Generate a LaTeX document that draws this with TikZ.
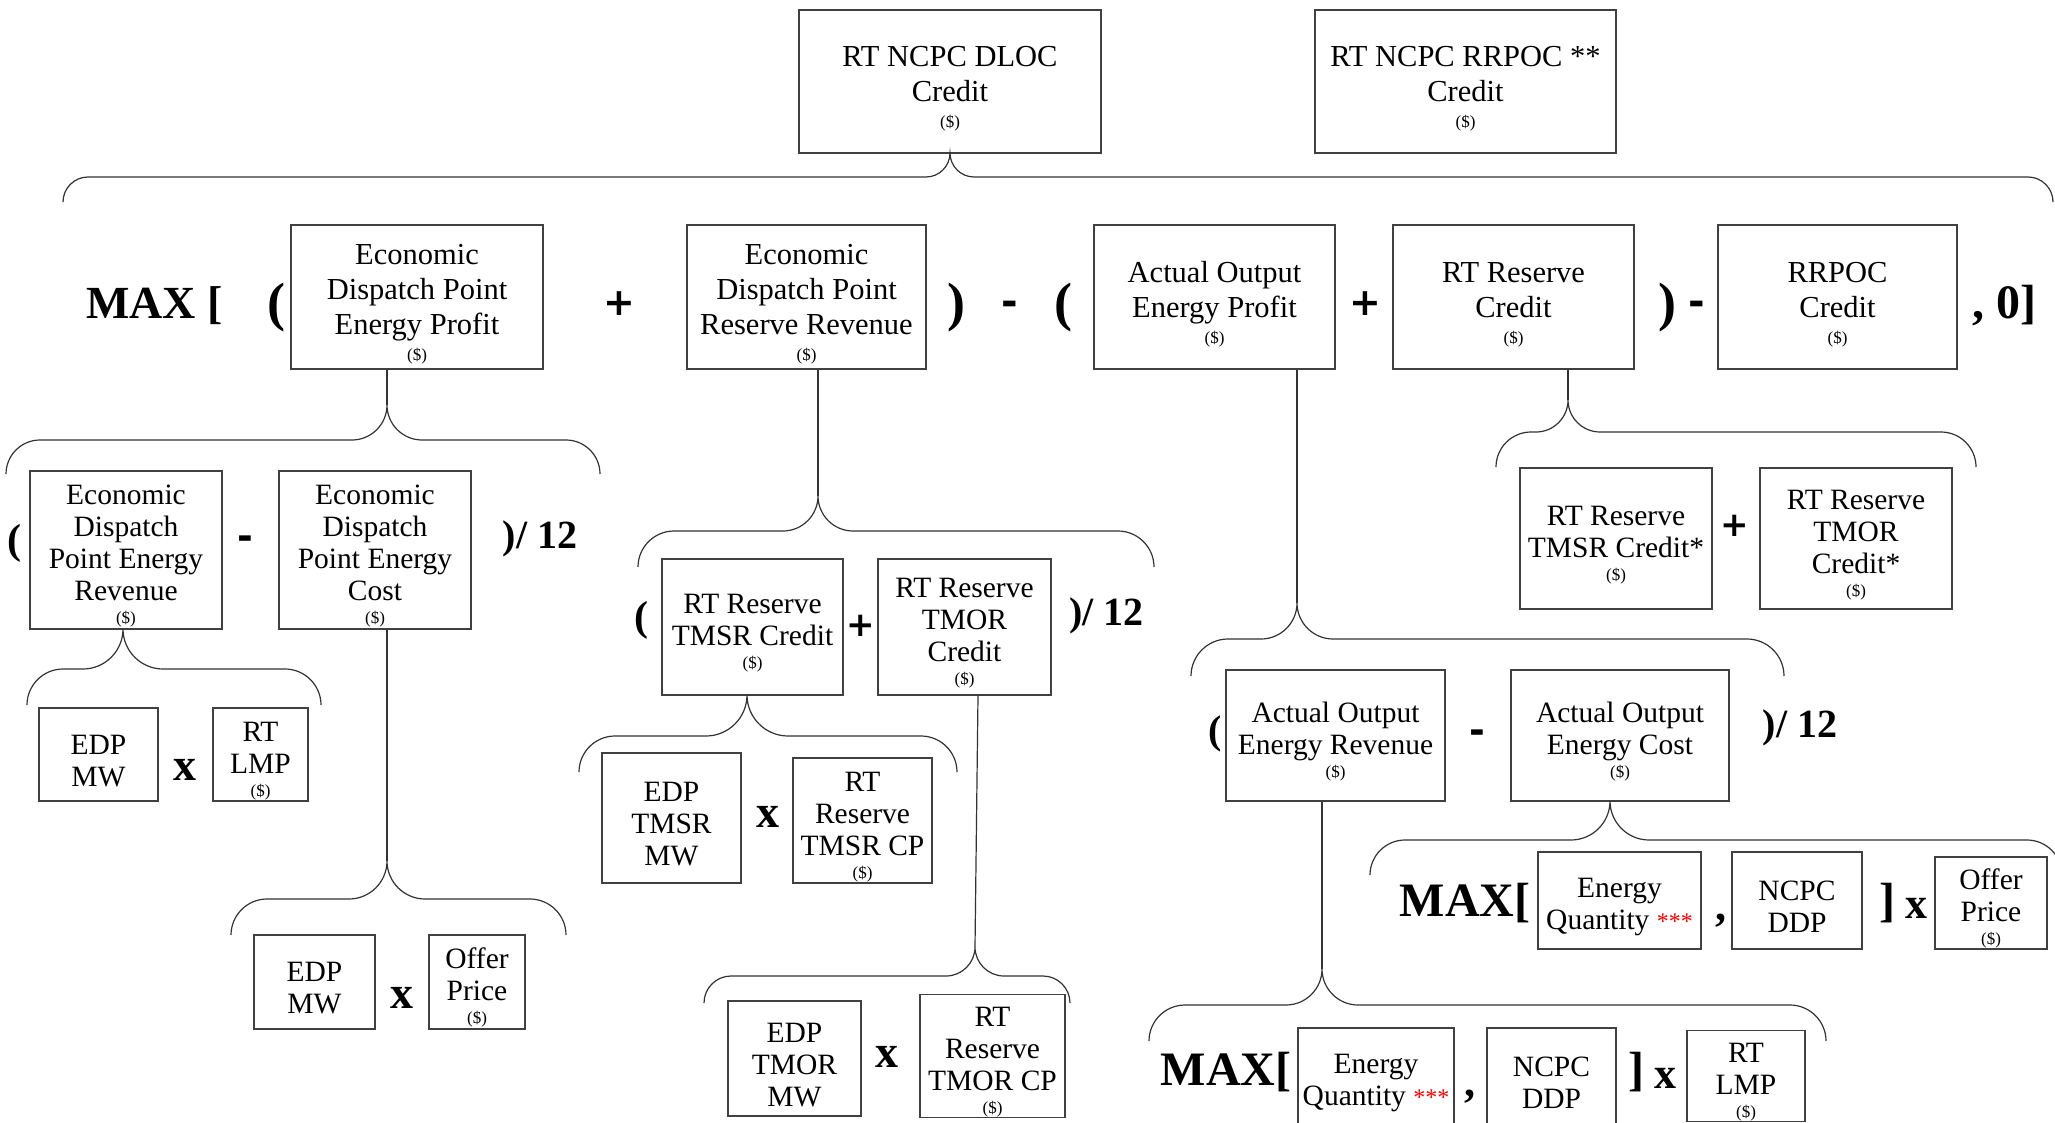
\documentclass[tikz,border=0pt]{standalone}
\usepackage{fontspec}
\setmainfont{Liberation Serif}
\newfontfamily\heavy{DejaVu Sans}
\usepackage{xcolor}

% small "($)" unit line under a box label
\newcommand\dol{\\[-9pt]{\fontsize{17}{18}\selectfont(\$)}}
% red footnote marks
\newcommand\stars{{\color{red}\fontsize{24}{24}\selectfont ***}}
% box: style, name, centre x, centre y, width, height, text
\newcommand\bx[7]{\node[#1, minimum width=#5pt, minimum height=#6pt] (#2) at (#3,#4) {\rule{0pt}{6pt}\\[-6pt]#7};}
% curly brace: left x, tip x, right x, tip y, bar y, end y  (y measured downwards)
\newcommand\curly[6]{%
  \draw[conn] (#1,#6)
    .. controls (#1,{#6-0.55*(#6-#5)}) and ({#1+0.45*(#6-#5)},#5) .. ({#1+(#6-#5)},#5)
    -- ({#2-(#5-#4)},#5)
    .. controls ({#2-0.45*(#5-#4)},#5) and (#2,{#4+0.55*(#5-#4)}) .. (#2,#4)
    .. controls (#2,{#4+0.55*(#5-#4)}) and ({#2+0.45*(#5-#4)},#5) .. ({#2+(#5-#4)},#5)
    -- ({#3-(#6-#5)},#5)
    .. controls ({#3-0.45*(#6-#5)},#5) and (#3,{#6-0.55*(#6-#5)}) .. (#3,#6);}

\tikzset{
  conn/.style={draw=black!80, line width=1.2pt},
  box/.style={draw=black!75, line width=1.2pt, inner sep=0pt, align=center, fill=white},
  bigbox/.style={box, font=\fontsize{30.5}{35}\selectfont},
  lowbox/.style={box, font=\fontsize{29.5}{32}\selectfont},
  op/.style={anchor=base, inner sep=0pt, font=\fontsize{#1}{#1}\selectfont\bfseries},
  sop/.style={anchor=base, inner sep=0pt, font=\heavy\fontsize{#1}{#1}\selectfont\bfseries},
}

\begin{document}
\begin{tikzpicture}[x=1pt,y=-1pt]
\fill[white] (0,0) rectangle (2055,1123);
\useasboundingbox (0,0) rectangle (2055,1123);
\clip (0,0) rectangle (2055,1123);

% ---------- top credits ----------
\bx{bigbox}{dloc}{950}{81.5}{302}{143}{RT NCPC DLOC\\Credit\dol}
\bx{bigbox}{rrpoc}{1465.5}{81.5}{301}{143}{RT NCPC RRPOC **\\Credit\dol}

% ---------- main formula row ----------
\bx{bigbox}{edpProfit}{417}{297}{252}{144}{Economic\\Dispatch Point\\Energy Profit\dol}
\bx{bigbox}{edpReserve}{806.5}{297}{239}{144}{Economic\\Dispatch Point\\Reserve Revenue\dol}
\bx{bigbox}{aoProfit}{1214.5}{297}{241}{144}{Actual Output\\Energy Profit\dol}
\bx{bigbox}{rtRes}{1513.5}{297}{241}{144}{RT Reserve\\Credit\dol}
\bx{bigbox}{rrpocCr}{1837.5}{297}{239}{144}{RRPOC\\Credit\dol}

\node[op=46] (maxA) at (154.5,318) {MAX [};
\node[op=54] (lpA) at (276,320) {(};
\node[sop=38] (plA) at (619,315) {+};
\node[op=54] (rpA) at (956,320) {)};
\node[sop=40] (miA) at (1010,316) {-};
\node[op=54] (lpB) at (1063,320) {(};
\node[sop=38] (plB) at (1365,315) {+};
\node[op=54] (rpB) at (1667,320) {)};
\node[sop=40] (miB) at (1697,316) {-};
\node[op=48] (endA) at (2004,318) {, 0]};

% ---------- energy profit breakdown ----------
\bx{lowbox}{edpRev}{126}{550}{192}{158}{Economic\\Dispatch\\Point Energy\\Revenue\dol}
\bx{lowbox}{edpCost}{375}{550}{192}{158}{Economic\\Dispatch\\Point Energy\\Cost\dol}
\node[op=42] (lpC) at (14,553) {(};
\node[sop=38] (miC) at (245,549) {-};
\node[op=40] (divC) at (540,548) {)/ 12};

\bx{lowbox}{edpMW1}{98.5}{754.5}{119}{93}{EDP\\MW}
\bx{lowbox}{rtLmp1}{260.5}{754.5}{95}{93}{RT\\LMP\dol}
\node[op=46] (xL3) at (185,780) {x};

\bx{lowbox}{edpMW2}{314.5}{982}{121}{94}{EDP\\MW}
\bx{lowbox}{offer1}{477}{982}{96}{94}{Offer\\Price\dol}
\node[op=46] (xL4) at (402,1008) {x};

% ---------- reserve revenue breakdown ----------
\bx{lowbox}{tmsrCr}{752.5}{627}{181}{136}{RT Reserve\\TMSR Credit\dol}
\bx{lowbox}{tmorCr}{964.5}{627}{173}{136}{RT Reserve\\TMOR\\Credit\dol}
\node[op=42] (lpD) at (641,630) {(};
\node[sop=34] (plD) at (861,636) {+};
\node[op=40] (divD) at (1106.5,625) {)/ 12};

\bx{lowbox}{edpTmsrMW}{671.5}{818}{139}{130}{EDP\\TMSR\\MW}
\bx{lowbox}{rtTmsrCP}{862.5}{820.5}{139}{125}{RT\\Reserve\\TMSR CP\dol}
\node[op=46] (xM3) at (768,827) {x};

\bx{lowbox}{edpTmorMW}{794.5}{1058.5}{133}{115}{EDP\\TMOR\\MW}
\bx{lowbox}{rtTmorCP}{992.5}{1056}{145}{118}{RT\\Reserve\\TMOR CP\dol}
\node[op=46] (xM4) at (887,1067) {x};

% ---------- RT reserve credit breakdown ----------
\bx{lowbox}{tmsrStar}{1616}{538.5}{192}{141}{RT Reserve\\TMSR Credit*\dol}
\bx{lowbox}{tmorStar}{1856}{538.5}{192}{141}{RT Reserve\\TMOR\\Credit*\dol}
\node[sop=34] (plE) at (1735,536) {+};

% ---------- actual output energy profit breakdown ----------
\bx{lowbox}{aoRev}{1335.5}{735.5}{219}{131}{Actual Output\\Energy Revenue\dol}
\bx{lowbox}{aoCost}{1620}{735.5}{218}{131}{Actual Output\\Energy Cost\dol}
\node[op=40] (lpF) at (1215,743) {(};
\node[sop=38] (miF) at (1477,743) {-};
\node[op=40] (divF) at (1800,737) {)/ 12};

\bx{lowbox}{eq1}{1619.5}{900.5}{163}{97}{Energy\\Quantity \stars}
\bx{lowbox}{ncpc1}{1797}{900.5}{130}{97}{NCPC\\DDP}
\bx{lowbox}{offer2}{1991}{903}{112}{92}{Offer\\Price\dol}
\node[op=48] (maxR3) at (1465,916) {MAX[};
\node[op=44] (cmR3) at (1721,920) {,};
\node[op=48] (brR3) at (1887,916) {]};
\node[op=44] (xR3) at (1916,918) {x};

\bx{lowbox}{eq2}{1376}{1077}{156}{98}{Energy\\Quantity \stars}
\bx{lowbox}{ncpc2}{1551.5}{1077}{129}{98}{NCPC\\DDP}
\bx{lowbox}{rtLmp2}{1746}{1076}{118}{90}{RT\\LMP\dol}
\node[op=48] (maxR4) at (1226,1085) {MAX[};
\node[op=44] (cmR4) at (1470,1096) {,};
\node[op=48] (brR4) at (1636,1085) {]};
\node[op=44] (xR4) at (1665,1088) {x};

% ---------- stems from boxes down to brace tips ----------
\coordinate (t1) at (387,405);
\coordinate (t3) at (387,861);
\coordinate (t4) at (818,496);
\coordinate (t6) at (975,947);
\coordinate (t7) at (1568,400);
\coordinate (t8) at (1297,603);
\coordinate (t10) at (1322,969);
\draw[conn] ([xshift=-30pt]edpProfit.south) -- (t1);
\draw[conn] ([xshift=12pt]edpCost.south) -- (t3);
\draw[conn] ([xshift=11.5pt]edpReserve.south) -- (t4);
\draw[conn] ([xshift=13.5pt]tmorCr.south) -- (t6);
\draw[conn] ([xshift=54.5pt]rtRes.south) -- (t7);
\draw[conn] ([xshift=82.5pt]aoProfit.south) -- (t8);
\draw[conn] ([xshift=-13.5pt]aoRev.south) -- (t10);

% ---------- braces ----------
\curly{63}{950}{2053}{153}{177}{202}
\curly{6}{387}{600}{405}{440}{474}
\curly{27}{123}{321}{629}{669}{705}
\curly{231}{387}{566}{861}{899}{935}
\curly{638}{818}{1154}{496}{531}{567}
\curly{579}{747}{957}{695}{736}{772}
\curly{704}{975}{1070}{947}{976}{1003}
\curly{1496}{1568}{1976}{400}{432}{467}
\curly{1191}{1297}{1784}{603}{639}{676}
\curly{1370}{1610}{2062}{801}{840}{875}
\curly{1149}{1322}{1826}{969}{1005}{1041}
\end{tikzpicture}
\end{document}
